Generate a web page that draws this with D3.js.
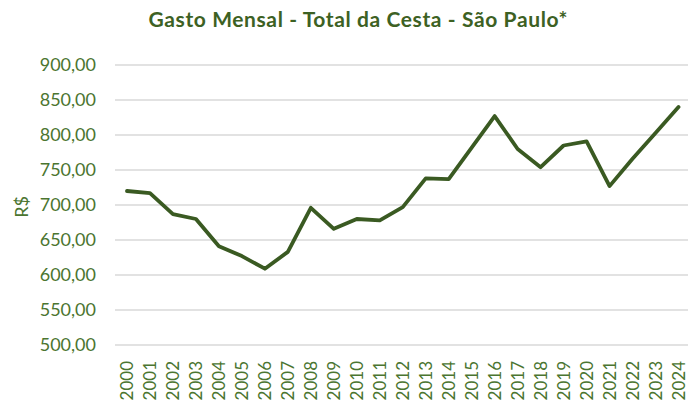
<!DOCTYPE html>
<html>
<head>
<meta charset="utf-8">
<script src="https://cdn.jsdelivr.net/npm/d3@7"></script>
<style>
  html, body { margin: 0; padding: 0; background: #ffffff; }
  svg { display: block; font-family: Lato, "Open Sans", sans-serif; }
</style>
</head>
<body>
<div id="chart"></div>
<script>
// dados
const years = ["2000","2001","2002","2003","2004","2005","2006","2007","2008","2009","2010","2011","2012",
               "2013","2014","2015","2016","2017","2018","2019","2020","2021","2022","2023","2024"];
const gasto = [720, 717, 687, 680, 641, 627, 609, 633, 696, 666, 680, 678, 697,
               738, 737, 782, 827, 780, 754, 785, 791, 727, 766, 803, 840];
const yTicks = [500, 550, 600, 650, 700, 750, 800, 850, 900];

const width = 688
const height = 401
const textColor = "#4b7530"
const lineColor = "#3a5a22"

const x = d3.scalePoint().domain(years).range([127, 678.5]);
const y = d3.scaleLinear().domain([500, 900]).range([345, 65]);

const svg = d3.select("#chart")
    .append("svg")
    .attr("width", width)
    .attr("height", height)

// titulo
svg.append("text")
    .attr("x", 358)
    .attr("y", 27)
    .attr("text-anchor", "middle")
    .attr("font-size", 21)
    .attr("font-weight", "bold")
    .attr("fill", "#3d6123")
    .attr("textLength", 419)
    .attr("lengthAdjust", "spacing")
    .text("Gasto Mensal - Total da Cesta - São Paulo*")

// linhas de grade
svg.append("g")
    .selectAll("line")
    .data(yTicks)
    .enter()
    .append("line")
    .attr("x1", 115)
    .attr("x2", width)
    .attr("y1", d => y(d))
    .attr("y2", d => y(d))
    .attr("stroke", "#d9d9d9")
    .attr("stroke-width", 1.3)

// eixo y
const fmt = d3.formatLocale({decimal: ",", thousands: ".", grouping: [3], currency: ["R$", ""]}).format(",.2f")
const yAxis = svg.append("g")
    .attr("transform", "translate(96,0)")
    .call(d3.axisLeft(y).tickValues(yTicks).tickFormat(fmt).tickSize(0).tickPadding(0))
yAxis.select(".domain").remove()
yAxis.selectAll("text")
    .attr("font-family", "Lato, sans-serif")
    .attr("font-size", 18)
    .attr("fill", textColor)

svg.append("text")
    .attr("transform", "translate(21,207)rotate(-90)")
    .attr("text-anchor", "middle")
    .attr("dominant-baseline", "central")
    .attr("font-size", 18)
    .attr("fill", textColor)
    .text("R$")

// eixo x
const xAxis = svg.append("g")
    .attr("transform", "translate(0,361)")
    .call(d3.axisBottom(x).tickSize(0).tickPadding(0))
xAxis.select(".domain").remove()
xAxis.selectAll("text")
    .attr("font-family", "Lato, sans-serif")
    .attr("font-size", 17)
    .attr("fill", textColor)
    .attr("transform", "rotate(-90)")
    .attr("text-anchor", "end")
    .attr("dy", "0.35em")
    .attr("y", 0)
    .attr("x", 0)

// linha
const line = d3.line()
    .x((d, i) => x(years[i]))
    .y(d => y(d))

svg.append("path")
    .datum(gasto)
    .attr("d", line)
    .attr("fill", "none")
    .attr("stroke", lineColor)
    .attr("stroke-width", 3.8)
    .attr("stroke-linejoin", "round")
    .attr("stroke-linecap", "round")
</script>
</body>
</html>
